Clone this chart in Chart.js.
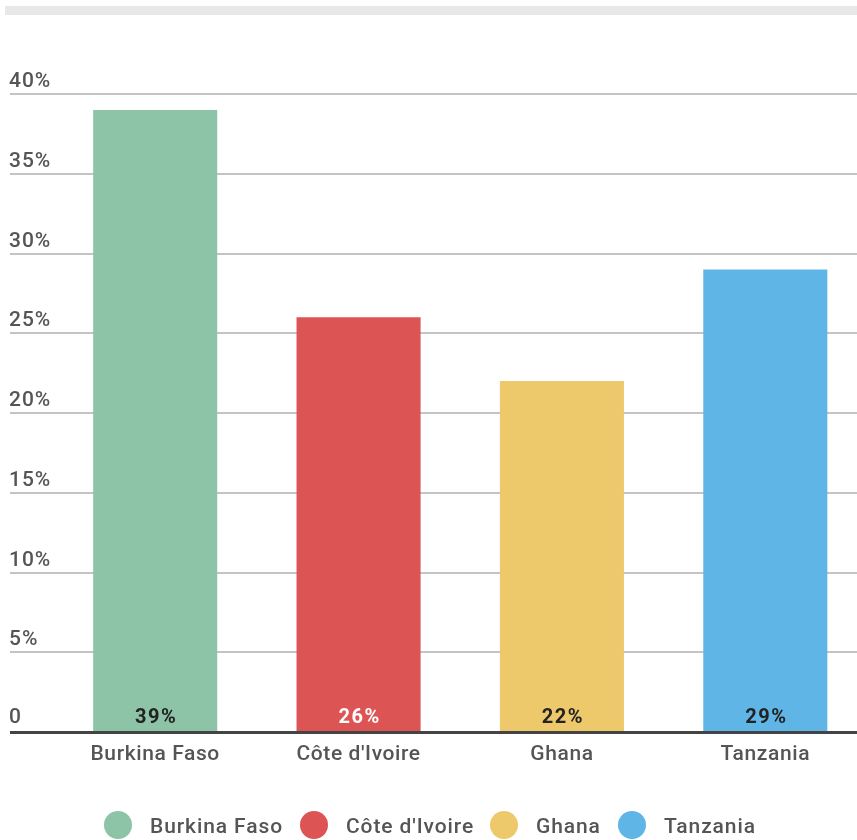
<!DOCTYPE html>
<html>
<head>
<meta charset="utf-8">
<script src="https://cdn.jsdelivr.net/npm/chart.js@4/dist/chart.umd.min.js"></script>
<style>
html,body{margin:0;padding:0;background:#fff;overflow:hidden;}
#wrap{width:857px;height:840px;position:relative;overflow:hidden;}
#c{position:absolute;left:0;top:0;}
</style>
</head>
<body>
<div id="wrap"><canvas id="c" width="867" height="840"></canvas></div>
<script>
const categories = ["Burkina Faso", "Côte d'Ivoire", "Ghana", "Tanzania"];
const values = [39, 26, 22, 29];
const colors = ["#8dc3a7", "#dc5454", "#eec96b", "#5fb5e5"];
const labelColors = ["#222222", "#ffffff", "#222222", "#222222"];
const yTicks = [0, 5, 10, 15, 20, 25, 30, 35, 40];
const yTickLabels = ["0", "5%", "10%", "15%", "20%", "25%", "30%", "35%", "40%"];

const FONT = "Roboto, 'Noto Sans', sans-serif";

const decor = {
  id: 'decor',
  beforeDraw(chart) {
    chart.ctx.letterSpacing = '0.6px';
  },
  beforeDatasetsDraw(chart) {
    const ctx = chart.ctx;
    const y = chart.scales.y;
    ctx.save();
    ctx.fillStyle = '#e8e8e8';
    ctx.fillRect(5, 6, 862, 9);
    yTicks.forEach((v, i) => {
      const py = Math.round(y.getPixelForValue(v));
      if (v !== 0) {
        ctx.strokeStyle = '#b0b0b0';
        ctx.lineWidth = 1.5;
        ctx.beginPath();
        ctx.moveTo(10, py);
        ctx.lineTo(867, py);
        ctx.stroke();
      }
      ctx.fillStyle = '#555555';
      ctx.font = '500 21px ' + FONT;
      ctx.letterSpacing = '1px';
      ctx.textAlign = 'left';
      ctx.textBaseline = 'alphabetic';
      ctx.fillText(yTickLabels[i], 9, py - (v === 0 ? 9 : 7));
    });
    ctx.restore();
  },
  afterDatasetsDraw(chart) {
    const ctx = chart.ctx;
    const y = chart.scales.y;
    const meta = chart.getDatasetMeta(0);
    ctx.save();
    const py0 = y.getPixelForValue(0);
    ctx.strokeStyle = '#444444';
    ctx.lineWidth = 3;
    ctx.beginPath();
    ctx.moveTo(10, py0 + 0.5);
    ctx.lineTo(867, py0 + 0.5);
    ctx.stroke();
    ctx.font = 'bold 20px ' + FONT;
    ctx.letterSpacing = '1.5px';
    ctx.textAlign = 'center';
    ctx.textBaseline = 'alphabetic';
    meta.data.forEach((bar, i) => {
      ctx.fillStyle = labelColors[i];
      ctx.fillText(values[i] + '%', bar.x + 1, py0 - 9);
    });
    // legend
    const legendX = [118, 314, 504, 632];
    ctx.font = '500 21px ' + FONT;
    ctx.letterSpacing = '0.9px';
    ctx.textAlign = 'left';
    ctx.textBaseline = 'alphabetic';
    categories.forEach((c, i) => {
      ctx.fillStyle = colors[i];
      ctx.beginPath();
      ctx.arc(legendX[i], 825, 14, 0, Math.PI * 2);
      ctx.fill();
      ctx.fillStyle = '#555555';
      ctx.fillText(c, legendX[i] + 32, 833);
    });
    ctx.restore();
  }
};

new Chart(document.getElementById('c'), {
  type: 'bar',
  data: {
    labels: categories,
    datasets: [{
      data: values,
      backgroundColor: colors,
      borderWidth: 0,
      categoryPercentage: 1,
      barPercentage: 0.61
    }]
  },
  options: {
    responsive: false,
    animation: false,
    devicePixelRatio: 1,
    layout: { padding: { top: 94, left: 53.5, right: 0, bottom: 68 } },
    plugins: { legend: { display: false }, tooltip: { enabled: false } },
    scales: {
      y: { display: false, min: 0, max: 40, ticks: { stepSize: 5 } },
      x: {
        grid: { display: false },
        border: { display: false },
        ticks: { color: '#555555', font: { family: FONT, size: 21, weight: '500' }, padding: 2 },
        afterFit(axis) { axis.height = 40; }
      }
    }
  },
  plugins: [decor]
});
</script>
</body>
</html>
